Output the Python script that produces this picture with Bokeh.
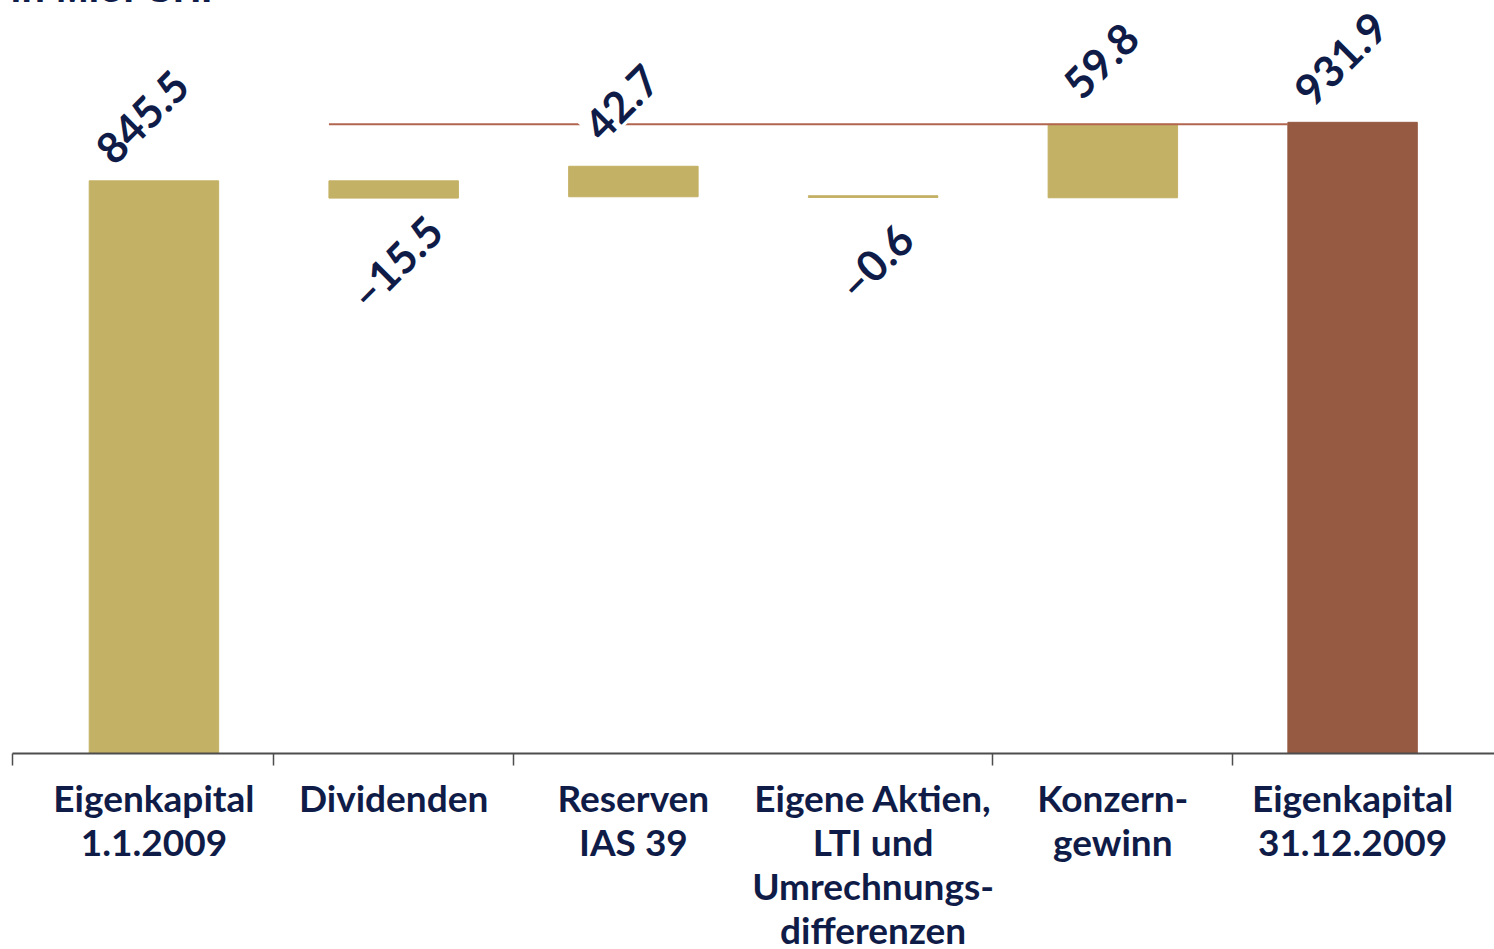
import numpy as np
from bokeh.plotting import figure
from bokeh.models import FixedTicker, Label, Range1d, ColumnDataSource
from bokeh.core.properties import value
from bokeh.embed import file_html
from bokeh.resources import INLINE

# ---- data ----
categories = [
    "Eigenkapital\n1.1.2009",
    "Dividenden",
    "Reserven\nIAS 39",
    "Eigene Aktien,\nLTI und\nUmrechnungs-\ndifferenzen",
    "Konzern-\ngewinn",
    "Eigenkapital\n31.12.2009",
]
values = [845.5, -15.5, 42.7, -0.6, 59.8, 931.9]
value_labels = ["845.5", "\u201315.5", "42.7", "\u20130.6", "59.8", "931.9"]
# bar extents as drawn in the original chart
bar_bottom = [0.0, 820.0, 822.0, 821.0, 820.5, 0.0]
bar_top = [845.5, 845.5, 867.0, 823.5, 929.0, 931.9]

# ---- styling ----
GOLD = "#c3b165"
BROWN = "#955a41"
NAVY = "#101c48"
LINE_RED = "#b2654f"
AXIS = "#4d4d4d"
bar_colors = [GOLD] * 5 + [BROWN]
BAR_W = 0.54

x_idx = list(range(len(categories)))

p = figure(frame_width=1482, frame_height=785,
           x_range=Range1d(-0.590, 5.592), y_range=Range1d(0, 1159),
           output_backend="svg", toolbar_location=None, y_axis_location=None,
           min_border_left=12, min_border_right=0, min_border_top=0, min_border_bottom=0)
p.styles = {"margin-top": "-32px"}
p.outline_line_color = None
p.grid.grid_line_color = None
p.background_fill_color = "white"
p.border_fill_color = "white"

src = ColumnDataSource(dict(x=x_idx, bottom=bar_bottom, top=bar_top, color=bar_colors))
p.vbar(x="x", bottom="bottom", top="top", width=BAR_W, fill_color="color",
       line_color="color", line_width=1, source=src)

# reference line at the level reached before the final total
ref_level = bar_top[4]
p.segment(x0=[x_idx[1] - BAR_W / 2], x1=[x_idx[5] - BAR_W / 2],
          y0=[ref_level], y1=[ref_level], line_color=LINE_RED, line_width=2)

# value labels
pos = [i for i, v in enumerate(values) if v >= 0]
neg = [i for i, v in enumerate(values) if v < 0]
pos_src = ColumnDataSource(dict(x=[x_idx[i] for i in pos], y=[bar_top[i] for i in pos],
                                t=[value_labels[i] for i in pos]))
neg_src = ColumnDataSource(dict(x=[x_idx[i] for i in neg], y=[bar_bottom[i] for i in neg],
                                t=[value_labels[i] for i in neg]))
common = dict(angle=np.pi / 4, text_align="center", text_baseline="middle",
              text_font=value("Lato"), text_font_style="bold", text_font_size="43px",
              text_color=NAVY, background_fill_color="white", padding=3)
p.text(x="x", y="y", text="t", source=pos_src, x_offset=-12, y_offset=-64, **common)
p.text(x="x", y="y", text="t", source=neg_src, x_offset=2, y_offset=64, **common)

# x axis
ax = p.xaxis[0]
minor = [p.x_range.start] + [i - 0.5 for i in (1, 2, 4, 5)]
ax.ticker = FixedTicker(ticks=x_idx, minor_ticks=minor)
ax.major_label_overrides = {i: c for i, c in enumerate(categories)}
ax.axis_line_color = AXIS
ax.axis_line_width = 2
ax.major_tick_line_color = None
ax.major_tick_out = 0
ax.major_tick_in = 0
ax.minor_tick_line_color = AXIS
ax.minor_tick_line_width = 1.5
ax.minor_tick_out = 12
ax.minor_tick_in = 0
ax.major_label_standoff = 9
ax.major_label_text_font = "Lato"
ax.major_label_text_font_style = "bold"
ax.major_label_text_font_size = "37px"
ax.major_label_text_color = NAVY
ax.major_label_text_line_height = 0.98

title = Label(x=-2, y=765, x_units="screen", y_units="screen", text="in Mio. CHF",
              text_font="Liberation Sans", text_font_style="bold", text_font_size="39px",
              text_color=NAVY, text_baseline="alphabetic", text_align="left")
p.add_layout(title)

open("out.html", "w").write(file_html(p, INLINE))
